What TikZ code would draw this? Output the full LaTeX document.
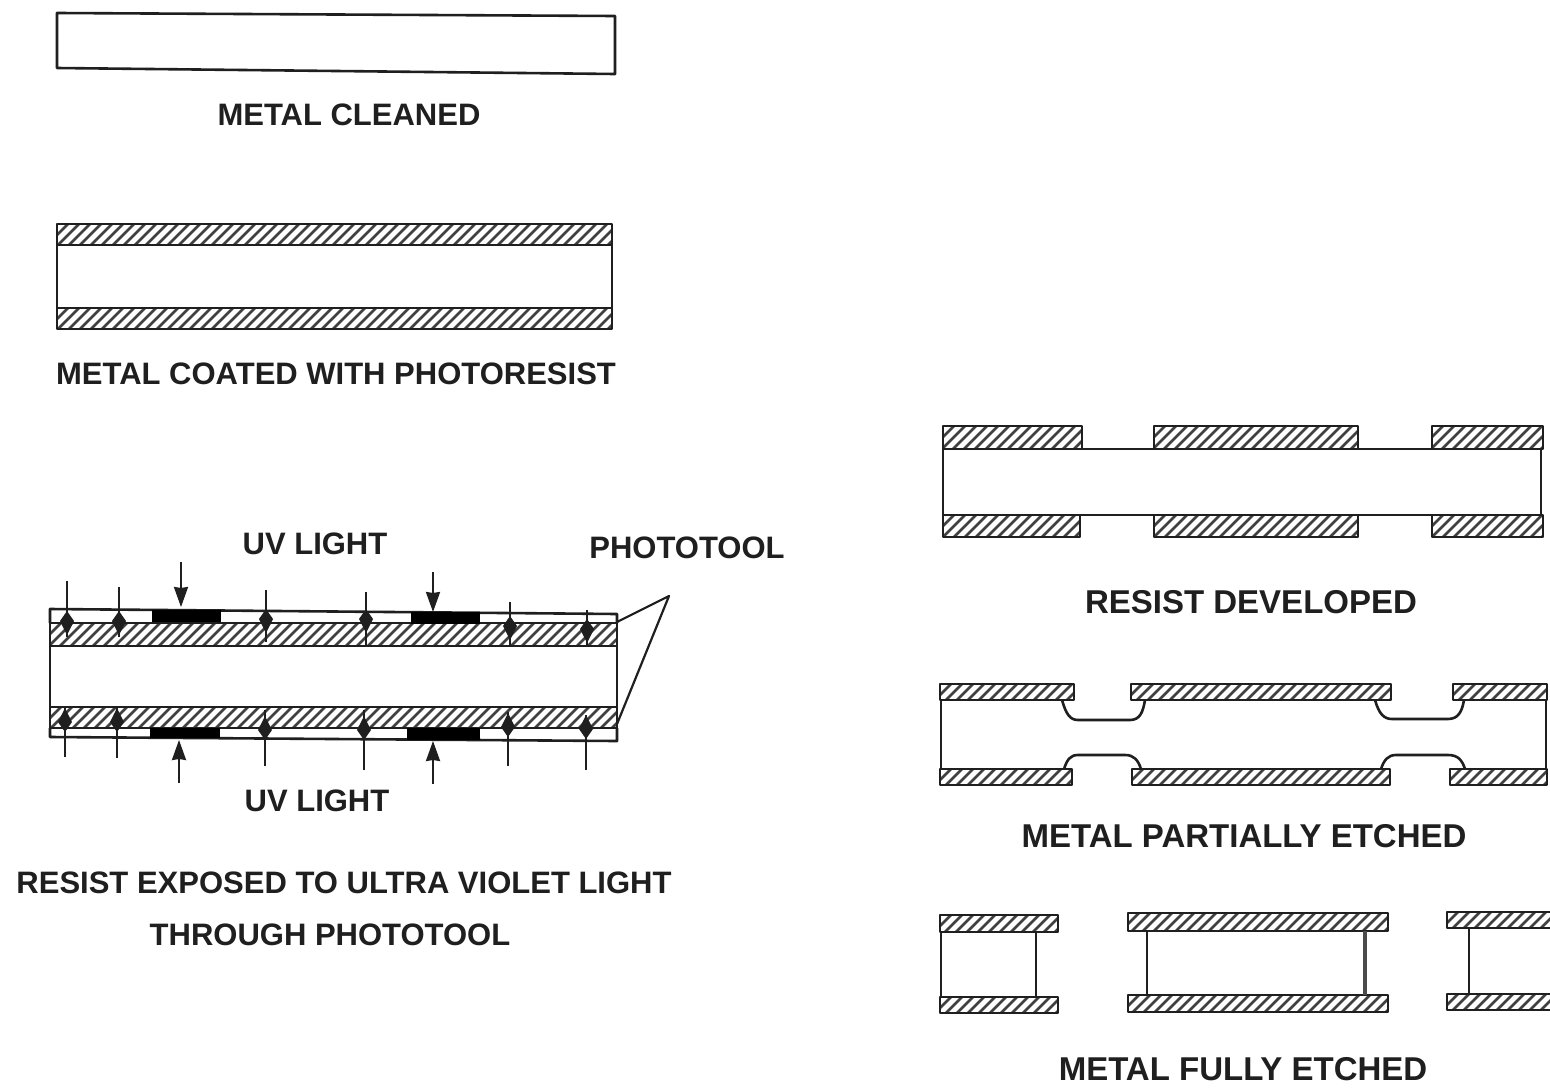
\documentclass[tikz,border=0pt]{standalone}
\usepackage{fontspec}
\setmainfont{Liberation Sans}
\usetikzlibrary{arrows.meta}
\definecolor{ink}{gray}{0.12}
\definecolor{hatchc}{gray}{0.25}
\tikzset{
  outline/.style={draw=ink,line width=2.6pt,line join=round},
  hatchline/.style={draw=hatchc,line width=2.6pt},
  lbl/.style={text=ink,inner sep=0pt,font=\fontsize{31}{33}\selectfont\bfseries},
  lblwide/.style={text=ink,inner sep=0pt,font=\fontsize{33}{35}\selectfont\bfseries},
  mask/.style={fill=black,draw=none},
  uvshaft/.style={draw=ink,line width=2.2pt},
  uvhead/.style={-{Stealth[length=20pt,width=14pt,inset=1pt]},draw=ink,line width=2.2pt},
  uvkite/.style={-{Kite[length=24pt,width=14pt,inset=10pt]},draw=ink,line width=2.2pt},
  leader/.style={draw=ink,line width=2.2pt,line join=round}
}
% hatched strip: x1,y1,x2,y2
\newcommand{\hatchstrip}[4]{%
  \begin{scope}
    \clip (#1,#2) rectangle (#3,#4);
    \pgfmathsetmacro{\hh}{#4-#2}
    \pgfmathsetmacro{\sx}{#1-\hh}
    \pgfmathsetmacro{\sn}{\sx+11}
    \foreach \k in {\sx,\sn,...,#3} {
      \draw[hatchline] (\k,#4) -- ++(\hh,-\hh);
    }
  \end{scope}
  \draw[outline] (#1,#2) rectangle (#3,#4);
}
% UV arrow on the mask: x, start, tip
\newcommand{\uvarrow}[3]{%
  \draw[uvhead] (#1,#2) -- (#1,#3);
}
% UV arrow through the tool: x, start, tip, end of line
\newcommand{\uvthrough}[4]{%
  \draw[uvshaft] (#1,#2) -- (#1,#4);
  \draw[uvkite] (#1,#2) -- (#1,#3);
}
\begin{document}
\begin{tikzpicture}[x=1pt,y=-1pt]
\useasboundingbox (0,0) rectangle (1550,1087);
\fill[white] (0,0) rectangle (1550,1087);

% --- metal cleaned
\draw[outline] (57,13) -- (615,16) -- (615,74) -- (57,68) -- cycle;
\node[lbl] (t1) at (349,115) {METAL CLEANED};

% --- coated
\hatchstrip{57}{224}{612}{245}
\hatchstrip{57}{308}{612}{329}
\draw[outline] (57,245) -- (57,308);
\draw[outline] (612,245) -- (612,308);
\node[lbl] (t2) at (336,374) {METAL COATED WITH PHOTORESIST};

% --- exposure
\hatchstrip{50}{623}{617}{646}
\hatchstrip{50}{707}{617}{728}
\draw[outline] (50,646) -- (50,707);
\draw[outline] (617,646) -- (617,707);
\draw[outline] (50,623) -- (50,609) -- (617,614) -- (617,623);
\draw[outline] (50,728) -- (50,737) -- (617,741) -- (617,728);
\fill[mask] (152,610) rectangle (221,622);
\fill[mask] (411,612) rectangle (480,624);
\fill[mask] (150,728) rectangle (220,738);
\fill[mask] (407,728) rectangle (480,740);

\uvthrough{67}{581}{635}{637}
\uvthrough{119}{587}{635}{637}
\uvarrow{181}{562}{607}
\uvthrough{266}{590}{633}{642}
\uvthrough{366}{592}{633}{645}
\uvarrow{433}{572}{612}
\uvthrough{510}{602}{640}{645}
\uvthrough{587}{610}{643}{645}

\uvthrough{65}{757}{708}{708}
\uvthrough{117}{758}{708}{708}
\uvarrow{179}{783}{740}
\uvthrough{265}{766}{716}{710}
\uvthrough{364}{770}{716}{710}
\uvarrow{433}{784}{741}
\uvthrough{508}{766}{713}{712}
\uvthrough{586}{770}{715}{715}

\coordinate (la) at (617,622);
\coordinate (lb) at (669,596);
\coordinate (lc) at (617,724);
\draw[leader] (la) -- (lb) -- (lc);

\node[lbl] (uv1) at (315,544) {UV LIGHT};
\node[lbl] (uv2) at (317,801) {UV LIGHT};
\node[lbl] (pt) at (687,548) {PHOTOTOOL};
\node[lbl] (t3a) at (344,883) {RESIST EXPOSED TO ULTRA VIOLET LIGHT};
\node[lbl] (t3b) at (330,935) {THROUGH PHOTOTOOL};

% --- resist developed
\hatchstrip{943}{426}{1082}{449}
\hatchstrip{1154}{426}{1358}{449}
\hatchstrip{1432}{426}{1543}{449}
\hatchstrip{943}{515}{1080}{537}
\hatchstrip{1154}{515}{1358}{537}
\hatchstrip{1432}{515}{1543}{537}
\draw[outline] (943,449) -- (1541,449) -- (1541,515) -- (943,515) -- cycle;
\node[lblwide] (t4) at (1251,602) {RESIST DEVELOPED};

% --- partially etched
\hatchstrip{940}{684}{1074}{700}
\hatchstrip{1131}{684}{1391}{700}
\hatchstrip{1453}{684}{1547}{700}
\hatchstrip{940}{769}{1072}{785}
\hatchstrip{1132}{769}{1390}{785}
\hatchstrip{1450}{769}{1547}{785}
\draw[outline] (1062,700) .. controls (1066,714) and (1070,720) .. (1078,720)
  -- (1130,720) .. controls (1140,720) and (1143,712) .. (1145,700);
\draw[outline] (1375,700) .. controls (1379,714) and (1384,719) .. (1392,719)
  -- (1448,719) .. controls (1458,719) and (1462,712) .. (1464,700);
\draw[outline] (1064,769) .. controls (1067,760) and (1070,755) .. (1078,755)
  -- (1125,755) .. controls (1134,755) and (1138,760) .. (1141,769);
\draw[outline] (1381,769) .. controls (1384,760) and (1388,755) .. (1396,755)
  -- (1448,755) .. controls (1458,755) and (1462,760) .. (1465,769);
\draw[outline] (941,700) -- (941,769);
\draw[outline] (1546,700) -- (1546,769);
\node[lblwide] (t5) at (1244,836) {METAL PARTIALLY ETCHED};

% --- fully etched
\hatchstrip{940}{915}{1058}{932}
\hatchstrip{940}{997}{1058}{1013}
\draw[outline] (941,932) -- (941,997);
\draw[outline] (1036,932) -- (1036,997);
\hatchstrip{1128}{913}{1388}{931}
\hatchstrip{1128}{995}{1388}{1012}
\draw[outline] (1147,931) -- (1147,995);
\draw[outline,line width=4pt,draw=ink!80] (1365,931) -- (1365,995);
\hatchstrip{1447}{912}{1552}{928}
\hatchstrip{1447}{994}{1552}{1010}
\draw[outline] (1469,928) -- (1469,994);
\node[lblwide] (t6) at (1243,1069) {METAL FULLY ETCHED};
\end{tikzpicture}
\end{document}
